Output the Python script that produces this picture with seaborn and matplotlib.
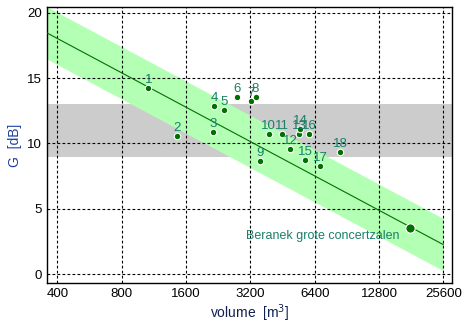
import numpy as np
import pandas as pd
import seaborn as sns
import matplotlib.pyplot as plt
from matplotlib.ticker import FixedLocator, NullLocator

# hall data
hall_ids = [str(i) for i in range(1, 19)]
volume = [1066, 1452, 2133, 2171, 2400, 2787, 3210, 3385, 3550,
          3900, 4480, 4920, 5430, 5460, 5770, 6040, 6780, 8430]
strength = [14.25, 10.6, 10.88, 12.87, 12.59, 13.59, 13.23, 13.59, 8.66,
            10.75, 10.7, 9.58, 10.75, 11.1, 8.76, 10.75, 8.25, 9.35]

# Beranek large concert halls point
beranek_vol = [17900]
beranek_G = [3.5]

# trend line and tolerance band, ends
line_vol = [358, 25600]
line_G = [18.47, 2.25]
band_upper = [20.47, 4.25]
band_lower = [16.47, 0.25]

xticks = [400, 800, 1600, 3200, 6400, 12800, 25600]
yticks = [0, 5, 10, 15, 20]

df = pd.DataFrame({"id": hall_ids, "volume": volume, "G": strength})
line_df = pd.DataFrame({"volume": line_vol, "G": line_G})

sns.set_style("white")
plt.rcParams['font.family'] = ['Liberation Sans', 'DejaVu Sans']

fig = plt.figure(figsize=(4.72, 3.25), dpi=100)
ax = fig.add_axes([0.0996, 0.1292, 0.8580, 0.8493])
ax.set_xscale('log', base=2)

ax.axhspan(9, 13, color='#cccccc', lw=0, zorder=0)
ax.fill_between(line_vol, band_lower, band_upper, color='#b3ffb3', lw=0, zorder=1)

sns.lineplot(data=line_df, x="volume", y="G", color='#007000', lw=0.8, ax=ax, zorder=3)
sns.scatterplot(data=df, x="volume", y="G", color='#007000', s=22,
                edgecolor='white', linewidth=0.8, ax=ax, zorder=4)
sns.scatterplot(x=beranek_vol, y=beranek_G, color='#007000', s=45,
                edgecolor='white', linewidth=0.8, ax=ax, zorder=4)

lab_col = '#1a8068'
for i, v, g in zip(hall_ids, volume, strength):
    ax.annotate(i, (v, g), xytext=(0, 1.5), textcoords='offset points',
                ha='center', va='bottom', fontsize=9.5, color=lab_col, zorder=5)

ax.text(3070, 2.9, "Beranek grote concertzalen", fontsize=9, color=lab_col,
        ha='left', va='center', zorder=5)

ax.set_xlim(358, 28100)
ax.set_ylim(-0.69, 20.46)
ax.xaxis.set_major_locator(FixedLocator(xticks))
ax.xaxis.set_minor_locator(NullLocator())
ax.set_xticklabels([str(t) for t in xticks])
ax.set_yticks(yticks)
ax.grid(True, color='black', ls=(0, (2.5, 2)), lw=0.8, zorder=2)
ax.set_axisbelow(False)
ax.tick_params(direction='in', length=4, labelsize=9.5, colors='black',
               top=False, right=False)
for s in ax.spines.values():
    s.set_color('black')
    s.set_linewidth(1)

ax.set_xlabel("volume  [m$^3$]", fontsize=10, color='#102050', labelpad=2)
ax.set_ylabel("G  [dB]", fontsize=10, color='#2040a0', labelpad=4)

fig.savefig("out.png", dpi=100)
